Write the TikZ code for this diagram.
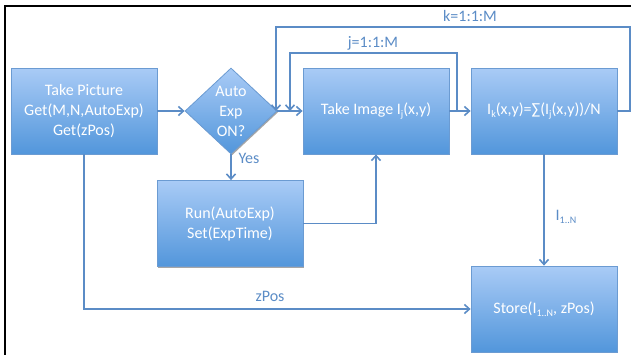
\documentclass[tikz,border=0pt]{standalone}
\usepackage{fontspec}
\setmainfont{Carlito}
\usetikzlibrary{shapes.geometric,arrows.meta,shadows}
\definecolor{boxtop}{HTML}{A9CBF6}
\definecolor{boxbot}{HTML}{5296DB}
\definecolor{boxline}{HTML}{6B9BD2}
\definecolor{conn}{HTML}{5B8CC6}
\newcommand{\sbx}[1]{\raisebox{-0.35ex}{\fontsize{10}{10}\selectfont #1}}
\tikzset{
  stepbox/.style={draw=boxline, line width=0.8pt, top color=boxtop, bottom color=boxbot,
    minimum width=146pt, minimum height=86pt, inner sep=0pt, text=white,
    font=\fontsize{16}{20}\selectfont, align=center,
    drop shadow={shadow xshift=1.2pt, shadow yshift=-1.2pt, opacity=0.35, fill=black}},
  decision/.style={diamond, draw=boxline, line width=0.8pt, top color=boxtop, bottom color=boxbot,
    minimum width=92pt, minimum height=86pt, inner sep=0pt,
    drop shadow={shadow xshift=1.2pt, shadow yshift=-1.2pt, opacity=0.35, fill=black}},
  conline/.style={draw=conn, line width=1.6pt},
  arr/.style={conline, -{Straight Barb[length=5pt,width=9pt,line width=1.6pt]}},
  lbl/.style={text=conn, font=\fontsize{16}{18}\selectfont, inner sep=0pt},
}
\begin{document}
\begin{tikzpicture}[x=1pt,y=-1pt]
\useasboundingbox (0,0) rectangle (631,354);
\draw[line width=2pt, black] (5,362) -- (5,6) -- (640,6);

\node[stepbox] (tp) at (84,111) {Take Picture\\Get(M,N,AutoExp)\\Get(zPos)};
\node[decision] (dec) at (231,111) {};
\node[text=white, font=\fontsize{16}{20}\selectfont, align=center, inner sep=0pt] (dect) at (231,111) {Auto\\Exp\\ON?};
\node[stepbox] (img) at (376,111) {Take Image I\sbx{j}(x,y)};
\node[stepbox] (avg) at (544,111) {I\sbx{k}(x,y)=∑(I\sbx{j}(x,y))/N};
\node[stepbox] (run) at (230,223.5) {Run(AutoExp)\\Set(ExpTime)};
\node[stepbox] (store) at (544,309) {Store(I\sbx{1..N}, zPos)};

\coordinate (j0) at (457,111);
\coordinate (j1) at (457,53);
\coordinate (j2) at (290,53);
\coordinate (j3) at (290,111);
\coordinate (k0) at (630,111);
\coordinate (k1) at (630,27);
\coordinate (k2) at (276,27);
\coordinate (k3) at (276,111);

\draw[arr] (tp.east) -- (dec.west);
\draw[arr] (dec.east) -- (img.west);
\draw[arr] (img.east) -- (avg.west);
\draw[arr] (dec.south) -- (dec.south |- run.north);
\draw[arr] (run.east) -| (img.south);
\draw[arr] (avg.south) -- (store.north);
\draw[arr] (tp.south) |- (store.west);
\draw[arr] (j0) -- (j1) -- (j2) -- (j3);
\draw[arr] (avg.east) -- (k0) -- (k1) -- (k2) -- (k3);

\node[lbl] (yes) at (249,158) {Yes};
\node[lbl] (jl) at (373,43) {j=1:1:M};
\node[lbl] (kl) at (470,16) {k=1:1:M};
\node[lbl] (zl) at (270,296) {zPos};
\node[lbl] (il) at (566,217) {I\sbx{1..N}};
\end{tikzpicture}
\end{document}
